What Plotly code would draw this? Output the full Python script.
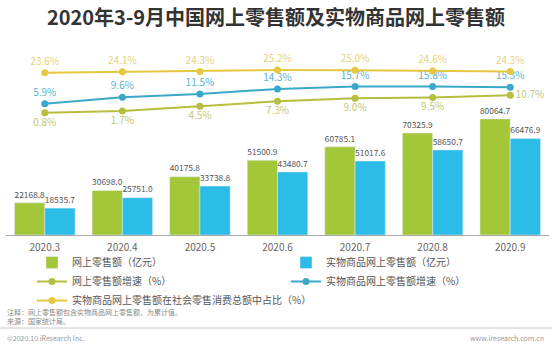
import plotly.graph_objects as go

months = ["2020.3", "2020.4", "2020.5", "2020.6", "2020.7", "2020.8", "2020.9"]
online_sales = [22168.8, 30698.0, 40175.8, 51500.9, 60785.1, 70325.9, 80064.7]
physical_sales = [18535.7, 25751.0, 33738.8, 43480.7, 51017.6, 58650.7, 66476.9]
online_growth = [0.8, 1.7, 4.5, 7.3, 9.0, 9.5, 10.7]
physical_growth = [5.9, 9.6, 11.5, 14.3, 15.7, 15.8, 15.3]
physical_share = [23.6, 24.1, 24.3, 25.2, 25.0, 24.6, 24.3]

GREEN = "#a4c639"
BLUE = "#2bbce8"
OLIVE = "#b6be3e"
LBLUE = "#3aa8c8"
GOLD = "#e6c840"
FONT = "Noto Sans CJK SC"

fig = go.Figure()

fig.add_trace(go.Bar(
    x=months, y=online_sales, name="网上零售额（亿元）", marker_color=GREEN,
    text=[f"{v:.1f}" for v in online_sales], textposition="outside",
    textfont=dict(size=11, color="#555555", family=FONT), cliponaxis=False,
    legend="legend"))
fig.add_trace(go.Bar(
    x=months, y=physical_sales, name="实物商品网上零售额（亿元）", marker_color=BLUE,
    text=[f"{v:.1f}" for v in physical_sales], textposition="outside",
    textfont=dict(size=11, color="#555555", family=FONT), cliponaxis=False,
    legend="legend2"))

fig.add_trace(go.Scatter(
    x=months, y=online_growth, yaxis="y2", name="网上零售额增速（%）",
    mode="lines+markers+text", line=dict(color=OLIVE, width=2),
    marker=dict(size=7, color=OLIVE),
    text=[f"{v:.1f}%" for v in online_growth],
    textposition=["bottom center"] * 6 + ["middle right"],
    textfont=dict(size=10, color="#c2c872", family=FONT), cliponaxis=False,
    legend="legend"))
fig.add_trace(go.Scatter(
    x=months, y=physical_growth, yaxis="y2", name="实物商品网上零售额增速（%）",
    mode="lines+markers+text", line=dict(color=LBLUE, width=2),
    marker=dict(size=7, color=LBLUE),
    text=[f"{v:.1f}%" for v in physical_growth], textposition="top center",
    textfont=dict(size=10, color="#5ab2cf", family=FONT), cliponaxis=False,
    legend="legend2"))
fig.add_trace(go.Scatter(
    x=months, y=physical_share, yaxis="y2", name="实物商品网上零售额在社会零售消费总额中占比（%）",
    mode="lines+markers+text", line=dict(color=GOLD, width=2),
    marker=dict(size=7, color=GOLD),
    text=[f"{v:.1f}%" for v in physical_share], textposition="top center",
    textfont=dict(size=10, color="#e8d27a", family=FONT), cliponaxis=False,
    legend="legend"))

fig.update_layout(
    width=552, height=345,
    margin=dict(l=0, r=0, t=0, b=0),
    paper_bgcolor="white", plot_bgcolor="white",
    font=dict(family=FONT, color="#555555"),
    barmode="group", bargap=0.22, bargroupgap=0,
    title=dict(text="<b>2020年3-9月中国网上零售额及实物商品网上零售额</b>",
               x=0.5, xanchor="center", y=1 - 18 / 345, yanchor="middle",
               font=dict(size=20, color="#333333", family=FONT)),
    xaxis=dict(domain=[6 / 552, 549 / 552], showline=True, linecolor="#aaaaaa",
               linewidth=1, ticks="", showgrid=False,
               tickfont=dict(size=10, color="#666666", family=FONT),
               ticklabelstandoff=3),
    yaxis=dict(domain=[1 - 235 / 345, 1 - 40 / 345], range=[0, 134500],
               visible=False, showgrid=False),
    yaxis2=dict(overlaying="y", range=[-69.1, 42.3], visible=False, showgrid=False),
    showlegend=True,
    legend=dict(x=32 / 552, y=1 - 248 / 345, xanchor="left", yanchor="top",
                orientation="v", font=dict(size=10, color="#555555", family=FONT),
                bgcolor="rgba(0,0,0,0)", itemwidth=30, traceorder="normal"),
    legend2=dict(x=286 / 552, y=1 - 248 / 345, xanchor="left", yanchor="top",
                 orientation="v", font=dict(size=10, color="#555555", family=FONT),
                 bgcolor="rgba(0,0,0,0)", itemwidth=30, traceorder="normal"),
)

fig.add_annotation(text="注释：网上零售额包含实物商品网上零售额，为累计值。", xref="paper", yref="paper",
                   x=5 / 552, y=1 - 312 / 345, xanchor="left", yanchor="middle",
                   showarrow=False, font=dict(size=7, color="#888888", family=FONT))
fig.add_annotation(text="来源：国家统计局。", xref="paper", yref="paper",
                   x=5 / 552, y=1 - 321 / 345, xanchor="left", yanchor="middle",
                   showarrow=False, font=dict(size=7, color="#888888", family=FONT))
fig.add_shape(type="line", xref="paper", yref="paper", x0=0, x1=1,
              y0=1 - 328 / 345, y1=1 - 328 / 345, line=dict(color="#cccccc", width=1))
fig.add_annotation(text="©2020.10 iResearch Inc.", xref="paper", yref="paper",
                   x=5 / 552, y=1 - 338 / 345, xanchor="left", yanchor="middle",
                   showarrow=False, font=dict(size=7, color="#999999", family=FONT))
fig.add_annotation(text="www.iresearch.com.cn", xref="paper", yref="paper",
                   x=546 / 552, y=1 - 338 / 345, xanchor="right", yanchor="middle",
                   showarrow=False, font=dict(size=7, color="#999999", family=FONT))

fig.write_html("out.html")
